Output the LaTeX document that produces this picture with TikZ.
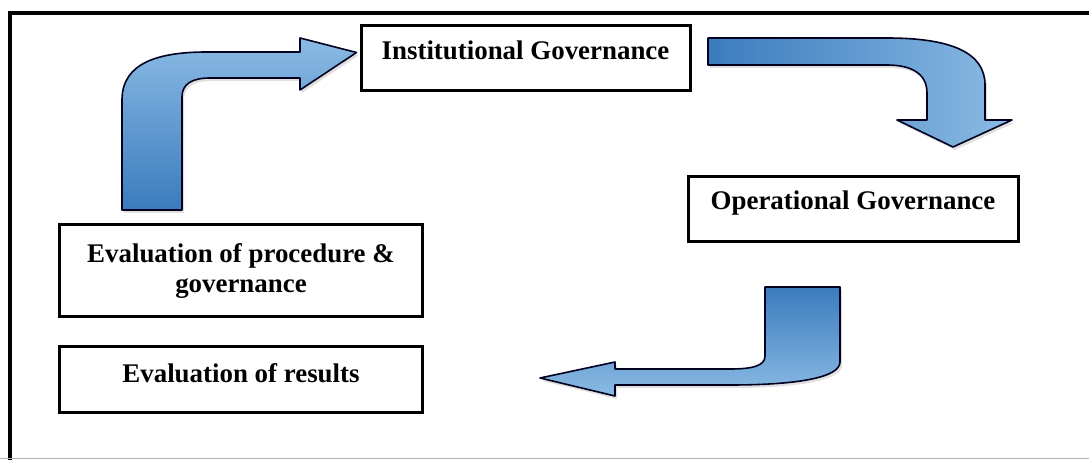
\documentclass[tikz,border=0pt]{standalone}
\usepackage{fontspec}
\setmainfont{Liberation Serif}
\begin{document}
\begin{tikzpicture}[x=1bp,y=-1bp,
  box/.style={draw, line width=3bp, inner sep=0pt, align=center,
    font=\bfseries\fontsize{27}{30}\selectfont},
  blockarrow/.style={draw=black!80!blue!60!black, line width=1.6bp, line join=round,
    preaction={fill=black!35, fill opacity=0.35, transform canvas={shift={(2bp,-3bp)}}}},
  frameline/.style={line width=3.5bp}
]
\useasboundingbox (0,0) rectangle (1089,460);
\definecolor{bdark}{HTML}{3B7BBE}
\definecolor{blight}{HTML}{8BBBE4}

% frame
\draw[frameline] (1089,13) -- (10,13) -- (10,460);
\draw[gray!60, line width=1.5bp] (0,458.5) -- (1089,458.5);

% boxes
\node[box, minimum width=329bp, minimum height=65bp, text height=18bp, text depth=15bp]
  (inst) at (525.5,58.5) {Institutional Governance};
\node[box, minimum width=330bp, minimum height=65bp, text height=18bp, text depth=17bp]
  (ops) at (853,209.5) {Operational Governance};
\node[box, minimum width=362bp, minimum height=92bp]
  (proc) at (241,271) {Evaluation of procedure \&\\ governance};
\node[box, minimum width=362bp, minimum height=66bp, text height=18bp, text depth=12bp]
  (res) at (241,380) {Evaluation of results};

% arrow 1: up then right into Institutional Governance
\path[blockarrow, top color=blight, bottom color=bdark]
  (122,210) -- (122,100) .. controls (122,62) and (160,52) .. (207,52)
  -- (300,52) -- (300,38) -- ([xshift=-3bp,yshift=6bp]inst.west) -- (300,90) -- (300,78)
  -- (210,78) .. controls (192,78) and (182,84) .. (182,97) -- (182,210) -- cycle;

% arrow 2: right then down to Operational Governance
\path[blockarrow, left color=bdark, right color=blight]
  (708,38) -- (887,38) .. controls (950,38) and (985,52) .. (985,85)
  -- (985,120) -- (1012,120) -- (953,147) -- (897,120) -- (927,120)
  -- (927,93) .. controls (927,74) and (912,65) .. (887,65) -- (708,65) -- cycle;

% arrow 3: down then left
\path[blockarrow, top color=bdark, bottom color=blight]
  (765,287) -- (840,287) -- (840,362) .. controls (840,378) and (795,385) .. (730,385)
  -- (615,385) -- (615,396) -- (540,378) -- (615,362) -- (615,369)
  -- (730,369) .. controls (752,369) and (765,366) .. (765,356) -- cycle;
\end{tikzpicture}
\end{document}
